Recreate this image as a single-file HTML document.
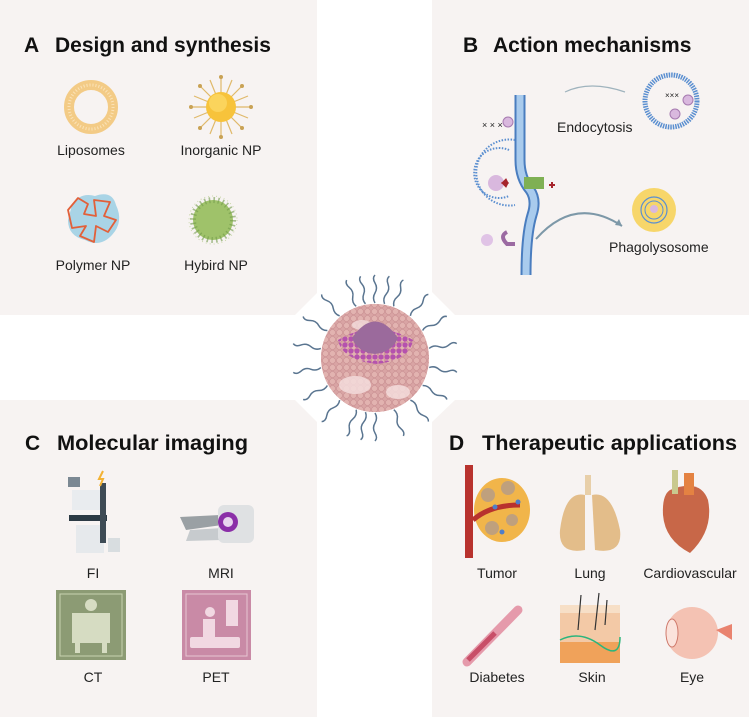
<!DOCTYPE html>
<html><head><meta charset="utf-8"><style>
html,body{margin:0;padding:0;background:#fff;width:749px;height:717px;overflow:hidden}
svg{display:block}
text{font-family:"Liberation Sans",Arial,sans-serif;fill:#222}
.t{font-weight:bold;font-size:21px;fill:#111}
.l{font-size:14px;text-anchor:middle}
</style></head><body>
<svg width="749" height="717" viewBox="0 0 749 717" xmlns="http://www.w3.org/2000/svg">
<defs>
<pattern id="dots" width="7" height="7" patternUnits="userSpaceOnUse"><circle cx="3.5" cy="3.5" r="3" fill="#e2b3b0" stroke="#c99092" stroke-width=".6"/></pattern>
<pattern id="pdots" width="6" height="6" patternUnits="userSpaceOnUse"><circle cx="3" cy="3" r="2.6" fill="#b552ae"/></pattern>
</defs>
<g fill="#f7f3f2">
<polygon points="0,0 317,0 317,293 295,315 0,315"/>
<polygon points="432,0 749,0 749,315 455,315 432,292"/>
<polygon points="0,400 295,400 317,422 317,717 0,717"/>
<polygon points="455,400 749,400 749,717 432,717 432,422"/>
</g>
<text class="t" x="24" y="52">A<tspan x="55">Design and synthesis</tspan></text>
<text class="t" x="463" y="52">B<tspan x="493">Action mechanisms</tspan></text>
<text class="t" x="25" y="450">C<tspan x="57" textLength="191" lengthAdjust="spacingAndGlyphs">Molecular imaging</tspan></text>
<text class="t" x="449" y="450">D<tspan x="482" textLength="255" lengthAdjust="spacingAndGlyphs">Therapeutic applications</tspan></text>

<!-- A -->
<circle cx="91" cy="107" r="22" fill="none" stroke="#f3cb86" stroke-width="10"/>
<circle cx="91" cy="107" r="22" fill="none" stroke="#fbe3b8" stroke-width="3" stroke-dasharray="1 2"/>
<g stroke="#e0b96a" stroke-width="1.2">
<line x1="191" y1="107" x2="251" y2="107"/><line x1="221" y1="77" x2="221" y2="137"/>
<line x1="200" y1="86" x2="242" y2="128"/><line x1="242" y1="86" x2="200" y2="128"/>
<line x1="194" y1="96" x2="248" y2="118"/><line x1="194" y1="118" x2="248" y2="96"/>
<line x1="210" y1="80" x2="232" y2="134"/><line x1="232" y1="80" x2="210" y2="134"/>
</g>
<g fill="#c9a255"><circle cx="191" cy="107" r="2"/><circle cx="251" cy="107" r="2"/><circle cx="221" cy="77" r="2"/><circle cx="221" cy="137" r="2"/><circle cx="200" cy="86" r="2"/><circle cx="242" cy="128" r="2"/><circle cx="242" cy="86" r="2"/><circle cx="200" cy="128" r="2"/></g>
<circle cx="221" cy="107" r="15" fill="#f7c33b"/>
<circle cx="218" cy="103" r="9" fill="#fbd45c"/>
<text class="l" x="91" y="155">Liposomes</text>
<text class="l" x="221" y="155">Inorganic NP</text>
<path d="M72,205 Q80,192 95,196 Q112,190 116,205 Q124,222 112,235 Q100,248 85,240 Q68,236 68,220 Z" fill="#a9d4e6"/>
<path d="M68,210 L78,198 L88,204 L84,214 L96,216 L94,200 L110,202 L104,216 L116,220 L108,232 L96,226 L94,242 L80,236 L86,226 L72,228 Z" fill="none" stroke="#e2603a" stroke-width="1.8" stroke-linejoin="round"/>
<circle cx="213" cy="220" r="24" fill="none" stroke="#c9d6a8" stroke-width="1" stroke-dasharray="1 3"/>
<circle cx="213" cy="220" r="20" fill="#9fc26a"/>
<circle cx="213" cy="220" r="20" fill="none" stroke="#6f9a4a" stroke-width="6" stroke-dasharray="1.5 3" opacity=".6"/>
<text class="l" x="93" y="270">Polymer NP</text>
<text class="l" x="216" y="270">Hybird NP</text>

<!-- B -->
<path d="M520,95 L520,160 Q520,178 530,190 Q537,200 532,215 Q526,235 526,275" fill="none" stroke="#4a7dbf" stroke-width="11"/>
<path d="M520,95 L520,160 Q520,178 530,190 Q537,200 532,215 Q526,235 526,275" fill="none" stroke="#a9cbed" stroke-width="7"/>
<path d="M515,140 A33,33 0 1 0 515,205" fill="none" stroke="#5b8fd0" stroke-width="2" stroke-dasharray="1.5 1.5"/>
<path d="M509,150 A25,25 0 1 0 509,196" fill="none" stroke="#5b8fd0" stroke-width="2" stroke-dasharray="1.5 1.5"/>
<circle cx="496" cy="183" r="8" fill="#d9b8de"/>
<path d="M502,183 l4,-4 l2,4 l-2,4z M501,183 h8" fill="#a6242c" stroke="#a6242c"/>
<rect x="524" y="177" width="20" height="12" fill="#7fb054"/>
<path d="M549,185 l6,0 m-3,-3 l0,6" stroke="#a6242c" stroke-width="2"/>
<text x="482" y="128" font-size="9" fill="#222">× × ×</text>
<circle cx="508" cy="122" r="5" fill="#d9b8de" stroke="#a67ab0"/>
<circle cx="487" cy="240" r="6" fill="#e0c3e6"/>
<path d="M507,232 q-8,4 0,12 h8" fill="none" stroke="#9b6aa2" stroke-width="4"/>
<path d="M565,92 Q590,80 625,92" fill="none" stroke="#9fb3bd" stroke-width="1.2"/>
<path d="M536,239 Q575,195 622,226" fill="none" stroke="#7d98a8" stroke-width="2"/>
<path d="M622,226 l-7,-1 l4,-6z" fill="#7d98a8"/>
<circle cx="671" cy="101" r="26" fill="none" stroke="#5b8fd0" stroke-width="5" stroke-dasharray="1.5 1"/>
<text x="665" y="98" font-size="8" fill="#222">×××</text>
<circle cx="688" cy="100" r="5" fill="#d9b8de" stroke="#a67ab0"/>
<circle cx="675" cy="114" r="5" fill="#d9b8de" stroke="#a67ab0"/>
<text x="557" y="132" font-size="14">Endocytosis</text>
<circle cx="654" cy="210" r="22" fill="#f7d66a"/>
<circle cx="654" cy="210" r="13" fill="none" stroke="#5b8fd0" stroke-width="1.2"/>
<circle cx="654" cy="210" r="9" fill="none" stroke="#5b8fd0" stroke-width="1"/>
<circle cx="654" cy="209" r="4" fill="#d9b8de"/>
<text x="609" y="252" font-size="14">Phagolysosome</text>

<!-- Center NP -->
<g fill="none" stroke="#5a7590" stroke-width="1.5">
<path id="sq" d="M375,303 q-3,-5 0,-10 q3,-5 0,-10 q-3,-5 0,-8"/>
<use href="#sq" transform="rotate(20 375 358)"/><use href="#sq" transform="rotate(40 375 358)"/>
<use href="#sq" transform="rotate(60 375 358)"/><use href="#sq" transform="rotate(80 375 358)"/>
<use href="#sq" transform="rotate(100 375 358)"/><use href="#sq" transform="rotate(120 375 358)"/>
<use href="#sq" transform="rotate(140 375 358)"/><use href="#sq" transform="rotate(160 375 358)"/>
<use href="#sq" transform="rotate(180 375 358)"/><use href="#sq" transform="rotate(200 375 358)"/>
<use href="#sq" transform="rotate(220 375 358)"/><use href="#sq" transform="rotate(240 375 358)"/>
<use href="#sq" transform="rotate(260 375 358)"/><use href="#sq" transform="rotate(280 375 358)"/>
<use href="#sq" transform="rotate(300 375 358)"/><use href="#sq" transform="rotate(320 375 358)"/>
<use href="#sq" transform="rotate(340 375 358)"/><use href="#sq" transform="rotate(10 375 358)"/>
<use href="#sq" transform="rotate(190 375 358)"/><use href="#sq" transform="rotate(350 375 358)"/>
</g>
<circle cx="375" cy="358" r="54" fill="#d9a4a4"/>
<circle cx="375" cy="358" r="54" fill="url(#dots)"/>
<ellipse cx="355" cy="385" rx="16" ry="9" fill="#f3dcdc" opacity=".85"/>
<ellipse cx="398" cy="392" rx="12" ry="7" fill="#f3dcdc" opacity=".85"/>
<ellipse cx="362" cy="325" rx="10" ry="5" fill="#f3dcdc" opacity=".8"/>
<path d="M338,340 Q375,318 413,340 Q410,360 377,364 Q342,360 338,340Z" fill="url(#pdots)"/>
<path d="M352,338 Q375,305 398,338 Q392,352 375,354 Q357,352 352,338Z" fill="#9b6a9c"/>

<!-- C -->
<rect x="72" y="490" width="30" height="20" fill="#e9ecef"/><rect x="69" y="515" width="38" height="6" fill="#2c3a44"/>
<rect x="76" y="525" width="28" height="28" fill="#e6e9ec"/><rect x="100" y="483" width="6" height="60" fill="#3e4b55"/>
<rect x="68" y="477" width="12" height="10" fill="#7b8893"/><path d="M103,471 l-4,8 h4 l-3,7" stroke="#f3b233" stroke-width="2" fill="none"/>
<rect x="108" y="538" width="12" height="14" fill="#d8dde0"/>
<path d="M180,517 L220,515 L222,525 L186,530 Z" fill="#9aa0a4"/>
<path d="M190,530 L222,528 L222,540 L186,541 Z" fill="#c7cbce"/>
<rect x="218" y="505" width="36" height="38" rx="6" fill="#dfe1e3"/><circle cx="228" cy="522" r="10" fill="#8b2fa8"/><circle cx="228" cy="522" r="5" fill="#e8d5ee"/>
<text class="l" x="93" y="578">FI</text>
<text class="l" x="221" y="578">MRI</text>
<rect x="56" y="590" width="70" height="70" fill="#8c9b74"/>
<rect x="60" y="594" width="62" height="62" fill="none" stroke="#c9d3b1" stroke-width="1"/>
<rect x="72" y="613" width="38" height="30" fill="#d6dcc2"/><circle cx="91" cy="605" r="6" fill="#d6dcc2"/>
<rect x="75" y="643" width="5" height="10" fill="#d6dcc2"/><rect x="102" y="643" width="5" height="10" fill="#d6dcc2"/>
<rect x="182" y="590" width="69" height="70" fill="#c98aa6"/>
<rect x="186" y="594" width="61" height="62" fill="none" stroke="#e8c5d3"/>
<circle cx="210" cy="612" r="5" fill="#f1d8e2"/><rect x="203" y="619" width="12" height="18" fill="#f1d8e2"/>
<rect x="190" y="637" width="50" height="11" rx="2" fill="#f1d8e2"/><rect x="226" y="600" width="12" height="26" fill="#f1d8e2"/>
<text class="l" x="93" y="682">CT</text>
<text class="l" x="216" y="682">PET</text>

<!-- D -->
<rect x="465" y="465" width="8" height="93" fill="#b8322e"/>
<ellipse cx="502" cy="510" rx="28" ry="32" fill="#f1b54a"/>
<path d="M473,520 Q490,505 520,505" stroke="#b8322e" stroke-width="5" fill="none"/>
<g fill="#bfa07d"><circle cx="488" cy="495" r="7"/><circle cx="508" cy="488" r="7"/><circle cx="492" cy="528" r="7"/><circle cx="512" cy="520" r="6"/></g>
<g fill="#4f7ec9"><circle cx="495" cy="507" r="2.5"/><circle cx="518" cy="502" r="2.5"/><circle cx="502" cy="532" r="2.5"/></g>
<text class="l" x="497" y="578">Tumor</text>
<path d="M588,475 v20" stroke="#e8cfa9" stroke-width="6"/>
<path d="M585,495 Q565,490 560,530 Q558,555 585,550 Z" fill="#e3bd8a"/>
<path d="M592,495 Q612,490 620,530 Q623,555 595,550 Z" fill="#e3bd8a"/>
<text class="l" x="590" y="578">Lung</text>
<path d="M670,490 Q700,478 708,500 Q714,530 690,553 Q665,540 663,515 Q662,495 670,490Z" fill="#c86748"/>
<rect x="672" y="470" width="6" height="24" fill="#c9c98e"/><rect x="684" y="473" width="10" height="22" fill="#e48242"/>
<text class="l" x="690" y="578">Cardiovascular</text>
<path d="M467,662 L518,610" stroke="#e59aab" stroke-width="9" stroke-linecap="round"/>
<path d="M468,660 L495,633" stroke="#c84f68" stroke-width="5"/>
<text class="l" x="497" y="682">Diabetes</text>
<rect x="560" y="605" width="60" height="58" fill="#f3c9a6"/>
<rect x="560" y="642" width="60" height="21" fill="#f0a25a"/>
<rect x="560" y="605" width="60" height="8" fill="#f7dfc7"/>
<path d="M578,630 l3,-35 M595,630 l4,-37 M605,625 l2,-25" stroke="#333" stroke-width="1.2"/>
<path d="M560,640 Q580,630 600,645 T620,637" stroke="#2bb57c" fill="none" stroke-width="1.5"/>
<text class="l" x="592" y="682">Skin</text>
<circle cx="692" cy="633" r="26" fill="#f4c2b3"/><ellipse cx="672" cy="633" rx="6" ry="14" fill="#fbe3dc" stroke="#cf7a6c"/>
<path d="M716,630 L732,624 L732,640 Z" fill="#e9836f"/>
<text class="l" x="692" y="682">Eye</text>
</svg>
</body></html>
